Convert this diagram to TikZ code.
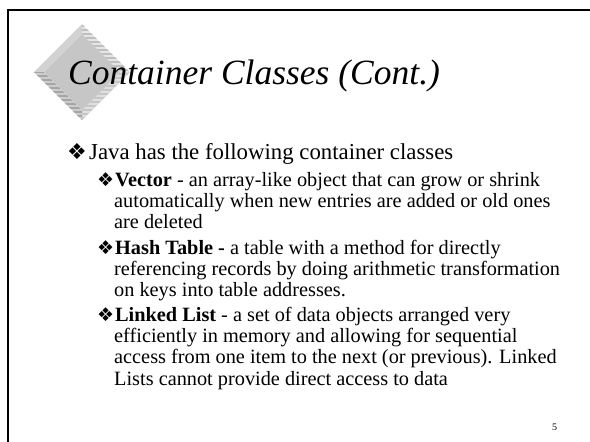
\documentclass[tikz,border=0pt]{standalone}
\usepackage{fontspec}
\setmainfont{Liberation Serif}
\newfontfamily\dvfont{DejaVu Sans}
\begin{document}
\begin{tikzpicture}[x=1pt,y=-1pt,
  lineone/.style={anchor=base west,inner sep=0pt,font=\fontsize{22.8}{26}\selectfont},
  linetwo/.style={anchor=base west,inner sep=0pt,font=\fontsize{20.3}{24}\selectfont},
  bulone/.style={anchor=base west,inner sep=0pt,font=\dvfont\fontsize{22}{24}\selectfont},
  bultwo/.style={anchor=base west,inner sep=0pt,font=\dvfont\fontsize{19}{22}\selectfont},
  stripe/.style={line width=1.2pt}]
\useasboundingbox (0,0) rectangle (590,442);
\fill[white] (0,0) rectangle (590,442);
% frame
\draw[line width=2.5pt] (8,442) -- (8,10) -- (590,10);
% diamond logo
\coordinate (T) at (82,24); \coordinate (R) at (130,72);
\coordinate (B) at (82,120); \coordinate (L) at (34,72);
\coordinate (Ti) at (82,34); \coordinate (Ri) at (120,72);
\coordinate (Bi) at (82,110); \coordinate (Li) at (44,72);
\fill[gray!35] (L) -- (T) -- (Ti) -- (Li) -- cycle;
\fill[gray!20] (T) -- (R) -- (Ri) -- (Ti) -- cycle;
\begin{scope}
\clip (T) -- (R) -- (Ri) -- (Ti) -- cycle;
\foreach \yy in {26,30,...,74} \draw[stripe,gray!50] (80,\yy) -- (132,\yy);
\end{scope}
\fill[gray!45] (R) -- (B) -- (Bi) -- (Ri) -- cycle;
\begin{scope}
\clip (R) -- (B) -- (Bi) -- (Ri) -- cycle;
\foreach \yy in {72,76,...,120} \draw[stripe,gray!25] (80,\yy) -- (132,\yy);
\end{scope}
\fill[gray!40] (B) -- (L) -- (Li) -- (Bi) -- cycle;
\begin{scope}
\clip (B) -- (L) -- (Li) -- (Bi) -- cycle;
\foreach \yy in {72,76,...,120} \draw[stripe,gray!70] (30,\yy) -- (84,\yy);
\end{scope}
\fill[gray!45] (Ti) -- (Ri) -- (Bi) -- (Li) -- cycle;
% title
\node[anchor=base west,inner sep=0pt,font=\fontsize{35.5}{40}\selectfont\itshape] (title) at (68,84) {Container Classes (Cont.)};
% level 1
\node[bulone] (b0) at (67,159) {❖};
\node[lineone] (l0) at (89,159) {Java has the following container classes};
% Vector
\node[bultwo] (b1) at (97,186) {❖};
\node[linetwo] (v1) at (115,186) {\textbf{Vector} - an array-like object that can grow or shrink};
\node[linetwo] (v2) at (114,207) {automatically when new entries are added or old ones};
\node[linetwo] (v3) at (114,228) {are deleted};
% Hash table
\node[bultwo] (b2) at (97,254) {❖};
\node[linetwo] (h1) at (115,254) {\textbf{Hash Table -} a table with a method for directly};
\node[linetwo] (h2) at (114,275) {referencing records by doing arithmetic transformation};
\node[linetwo] (h3) at (114,296) {on keys into table addresses.};
% Linked list
\node[bultwo] (b3) at (97,321) {❖};
\node[linetwo] (k1) at (115,321) {\textbf{Linked List} - a set of data objects arranged very};
\node[linetwo] (k2) at (114,342) {efficiently in memory and allowing for sequential};
\node[linetwo] (k3) at (114,363) {access from one item to the next (or previous). Linked};
\node[linetwo] (k4) at (114,385) {Lists cannot provide direct access to data};
% page number
\node[anchor=base west,inner sep=0pt,font=\fontsize{10}{12}\selectfont] (pg) at (552,430) {5};
\end{tikzpicture}
\end{document}
